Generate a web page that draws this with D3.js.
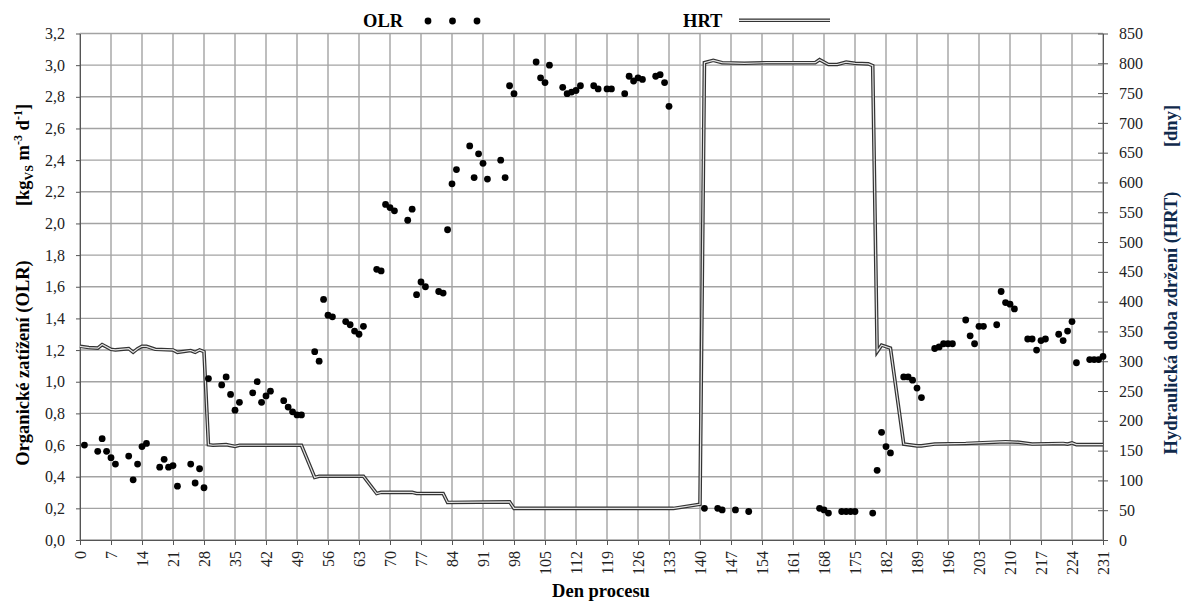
<!DOCTYPE html>
<html>
<head>
<meta charset="utf-8">
<script src="https://cdn.jsdelivr.net/npm/d3@7"></script>
<style>
  body { margin: 0; background: #fff; }
  .axis path, .axis line { stroke: #555; }
  .grid line { stroke: #a3a3a3; stroke-width: 1.4; }
</style>
</head>
<body>
<div id="chart"></div>
<script>
(function(){

//OLR measurements (den procesu, kg VS m-3 d-1)
var olrDays = [1,4,5,6,7,8,11,12,13,14,15,18,19,20,21,22,25,26,27,28,
    29,32,33,34,35,36,39,40,41,42,43,46,47,48,49,50,53,54,55,56,57,60,61,62,63,64,
    67,68,69,70,71,74,75,76,77,78,81,82,83,84,85,88,89,90,91,92,95,96,97,98,
    103,104,105,106,109,110,111,112,113,116,117,119,120,123,124,125,126,127,130,131,132,133,
    141,144,145,148,151,167,168,169,172,173,174,175,179,180,181,182,183,
    186,187,188,189,190,193,194,195,196,197,200,201,202,203,204,207,208,209,210,211,
    214,215,216,217,218,221,222,223,224,225,228,229,230,231];
var olrValues = [0.60,0.56,0.64,0.56,0.52,0.48,0.53,0.38,0.48,0.59,0.61,0.46,0.51,0.46,0.47,0.34,0.48,0.36,0.45,0.33,
    1.02,0.98,1.03,0.92,0.82,0.87,0.93,1.00,0.87,0.91,0.94,0.88,0.84,0.81,0.79,0.79,1.19,1.13,1.52,1.42,1.41,1.38,1.36,1.32,1.30,1.35,
    1.71,1.70,2.12,2.10,2.08,2.02,2.09,1.55,1.63,1.60,1.57,1.56,1.96,2.25,2.34,2.49,2.29,2.44,2.38,2.28,2.40,2.29,2.87,2.82,
    3.02,2.92,2.89,3.00,2.86,2.82,2.83,2.84,2.87,2.87,2.85,2.85,2.85,2.82,2.93,2.90,2.92,2.91,2.93,2.94,2.89,2.74,
    0.20,0.20,0.19,0.19,0.18,0.20,0.19,0.17,0.18,0.18,0.18,0.18,0.17,0.44,0.68,0.59,0.55,
    1.03,1.03,1.01,0.96,0.90,1.21,1.22,1.24,1.24,1.24,1.39,1.29,1.24,1.35,1.35,1.36,1.57,1.50,1.49,1.46,
    1.27,1.27,1.20,1.26,1.27,1.30,1.26,1.32,1.38,1.12,1.14,1.14,1.14,1.16];

//HRT (dny)
var hrtDays = [0,2,4,5,7,8,11,12,13,14,15,17,21,22,25,26,27,28,
    29,30,33,35,36,49,50,53,54,63,64,67,68,75,76,82,83,97,98,134,140,
    141,143,145,150,155,166,167,169,171,173,175,178,179,
    180,181,183,186,189,190,193,200,209,212,215,222,223,224,225,231];
var hrtValues = [325,323,322,328,320,319,321,315,321,325,325,320,319,315,318,315,319,316,
    160,159,160,157,159,159,159,105,107,107,107,78,80,80,78,78,63,64,53,53,60,
    801,805,801,800,801,801,806,798,798,802,800,799,796,
    316,327,322,161,158,158,161,162,165,164,161,162,161,163,160,160];

var xTicks = d3.range(0, 232, 7);
var yLeftTicks = d3.range(0, 17).map(function(i){ return i * 0.2; });
var yRightTicks = d3.range(0, 851, 50);

var FONT = '"Liberation Serif", "Times New Roman", "DejaVu Serif", serif';

var width = 1189, height = 603;
var left = 80, right = 1103, top = 33.5, bottom = 540;

var svg = d3.select("#chart")
    .append("svg")
    .attr("width", width)
    .attr("height", height)
    .attr("font-family", FONT);

var x = d3.scaleLinear().domain([0, 231]).range([left, right]);
var yL = d3.scaleLinear().domain([0, 3.2]).range([bottom, top]);
var yR = d3.scaleLinear().domain([0, 850]).range([bottom, top]);

var comma = function(d){ return d3.format(".1f")(d).replace(".", ","); };

//gridlines
var grid = svg.append("g").attr("class", "grid");
grid.selectAll(".v")
    .data(xTicks)
    .enter()
    .append("line")
    .attr("x1", function(d){ return x(d); })
    .attr("x2", function(d){ return x(d); })
    .attr("y1", top)
    .attr("y2", bottom);
grid.selectAll(".h")
    .data(yLeftTicks)
    .enter()
    .append("line")
    .attr("x1", left)
    .attr("x2", right)
    .attr("y1", function(d){ return yL(d); })
    .attr("y2", function(d){ return yL(d); });

//axes
svg.append("g")
    .attr("class", "axis")
    .attr("transform", "translate(" + left + ",0)")
    .call(d3.axisLeft(yL).tickValues(yLeftTicks).tickFormat(comma).tickSizeInner(4).tickSizeOuter(0).tickPadding(11));

var rAxis = svg.append("g")
    .attr("class", "axis")
    .attr("transform", "translate(" + right + ",0)")
    .call(d3.axisRight(yR).tickValues(yRightTicks).tickSizeInner(5).tickSizeOuter(0).tickPadding(11));
rAxis.selectAll(".tick line").attr("x1", -5).attr("x2", 5);

var xAxis = svg.append("g")
    .attr("class", "axis")
    .attr("transform", "translate(0," + bottom + ")")
    .call(d3.axisBottom(x).tickValues(xTicks).tickSizeInner(5).tickSizeOuter(0));
xAxis.selectAll("text")
    .attr("transform", "rotate(-90)")
    .attr("x", -11)
    .attr("y", 0)
    .attr("dy", "0.35em")
    .style("text-anchor", "end");

svg.selectAll(".axis")
    .attr("font-family", FONT)
    .attr("font-size", 16);
svg.selectAll(".axis text").attr("fill", "#222");

//HRT double line
var hrtData = hrtDays.map(function(d, i){ return [d, hrtValues[i]]; });
var line = d3.line()
    .x(function(d){ return x(d[0]); })
    .y(function(d){ return yR(d[1]); });

svg.append("path")
    .datum(hrtData)
    .attr("d", line)
    .attr("fill", "none")
    .attr("stroke", "#333")
    .attr("stroke-width", 3.6);
svg.append("path")
    .datum(hrtData)
    .attr("d", line)
    .attr("fill", "none")
    .attr("stroke", "#e4e4e4")
    .attr("stroke-width", 1.2);

//OLR dots
svg.selectAll(".olr")
    .data(olrDays)
    .enter()
    .append("circle")
    .attr("class", "olr")
    .attr("cx", function(d){ return x(d); })
    .attr("cy", function(d, i){ return yL(olrValues[i]); })
    .attr("r", 3.4)
    .attr("fill", "#000");

//legend
function title(sel){
    return sel.attr("font-weight", "bold").attr("font-size", 18.5).attr("font-family", FONT);
}

svg.append("text")
    .call(title)
    .attr("x", 363)
    .attr("y", 27)
    .text("OLR");
svg.selectAll(".legDot")
    .data([428, 452.5, 477])
    .enter()
    .append("circle")
    .attr("cx", function(d){ return d; })
    .attr("cy", 21)
    .attr("r", 3.4)
    .attr("fill", "#000");
svg.append("text")
    .call(title)
    .attr("x", 683)
    .attr("y", 27)
    .text("HRT");
svg.append("line")
    .attr("x1", 739).attr("x2", 830).attr("y1", 20.3).attr("y2", 20.3)
    .attr("stroke", "#333").attr("stroke-width", 3.6);
svg.append("line")
    .attr("x1", 739).attr("x2", 830).attr("y1", 20.3).attr("y2", 20.3)
    .attr("stroke", "#e4e4e4").attr("stroke-width", 1.2);

//axis titles
svg.append("text")
    .call(title)
    .attr("text-anchor", "middle")
    .attr("x", 601)
    .attr("y", 597)
    .text("Den procesu");

svg.append("text")
    .call(title)
    .attr("text-anchor", "middle")
    .attr("transform", "translate(29,363) rotate(-90)")
    .text("Organické zatížení (OLR)");

var unit = svg.append("text")
    .call(title)
    .attr("text-anchor", "middle")
    .attr("transform", "translate(29,155) rotate(-90)");
unit.append("tspan").text("[kg");
unit.append("tspan").attr("dy", 4).attr("font-size", 12).text("VS");
unit.append("tspan").attr("dy", -4).text(" m");
unit.append("tspan").attr("dy", -7).attr("font-size", 12).text("-3");
unit.append("tspan").attr("dy", 7).text(" d");
unit.append("tspan").attr("dy", -7).attr("font-size", 12).text("-1");
unit.append("tspan").attr("dy", 7).text("]");

svg.append("text")
    .call(title)
    .attr("text-anchor", "middle")
    .attr("fill", "#102a4c")
    .attr("transform", "translate(1177,323) rotate(-90)")
    .text("Hydraulická doba zdržení (HRT)");
svg.append("text")
    .call(title)
    .attr("text-anchor", "middle")
    .attr("fill", "#102a4c")
    .attr("transform", "translate(1177,126) rotate(-90)")
    .text("[dny]");

})();
</script>
</body>
</html>
